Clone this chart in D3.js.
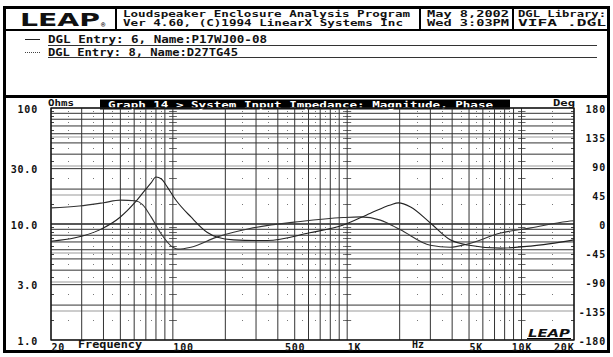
<!DOCTYPE html>
<html><head><meta charset="utf-8">
<script src="https://cdn.jsdelivr.net/npm/d3@7"></script>
<style>
html,body{margin:0;padding:0;background:#fff;}
svg{display:block;}
text{font-family:"DejaVu Sans Mono",monospace;font-weight:bold;fill:#111;}
</style></head>
<body>
<script>
// ---- data ----
const magFreq = [20, 27.5, 38, 50, 61, 70, 75, 80, 86, 93, 104, 127, 157, 180, 223, 348, 610, 950, 1360, 1770, 1970, 2310, 3000, 3900, 4900, 7600, 11300, 20000];
const magOhm  = [7.1, 7.6, 8.9, 11.5, 15.5, 20.0, 22.6, 25.4, 24.4, 20.8, 16.1, 11.5, 8.5, 7.7, 7.3, 7.2, 8.4, 9.8, 12.4, 14.6, 15.2, 14.0, 10.2, 7.3, 6.6, 6.2, 6.45, 7.3];
const phFreq  = [20, 29, 40, 50, 61, 67, 75, 85, 101, 107, 127, 180, 277, 540, 950, 1190, 1550, 2020, 3000, 3900, 4900, 7600, 11300, 18300, 20000];
const phDeg   = [25, 28, 33, 37, 36, 30, 11, -14, -37, -39, -36, -20, -7, 4, 10, 11, 6, -9, -33, -36, -31, -14, -6, 4, 5];

const ohmTicks = [100, 30, 10, 3, 1];
const ohmTickLabels = ["100", "30.0", "10.0", "3.0", "1.0"];
const degTicks = [180, 135, 90, 45, 0, -45, -90, -135, -180];
const freqTicks = [20, 100, 500, 1000, 5000, 10000, 20000];
const freqTickLabels = ["20", "100", "500", "1K", "5K", "10K", "20K"];

const headerTitle = ["Loudspeaker Enclosure Analysis Program", "Ver 4.60,  (C)1994 LinearX Systems Inc"];
const headerDate = ["May    8,2002", "Wed    3:03PM"];
const headerLib = ["DGL Library:", "VIFA     .DGL"];
const legendEntries = ["DGL Entry: 6, Name:P17WJ00-08", "DGL Entry: 8, Name:D27TG45"];
const graphTitle = "Graph 14 > System Input Impedance: Magnitude, Phase";

// ---- layout ----
const W = 613, H = 357;
const L = 51, R = 574, T = 108, B = 340;
const svg = d3.select("body").append("svg").attr("width", W).attr("height", H);

const x = d3.scaleLog().domain([20, 20000]).range([L, R]);
const yO = d3.scaleLog().domain([1, 100]).range([B, T]);
const yP = d3.scaleLinear().domain([-180, 180]).range([B, T]);

// outer frame
svg.append("rect").attr("x", 4.5).attr("y", 7.5).attr("width", 604).attr("height", 344)
  .attr("fill", "none").attr("stroke", "#000").attr("stroke-width", 3);
// header bottom
svg.append("line").attr("x1", 4).attr("x2", 609).attr("y1", 30).attr("y2", 30).attr("stroke", "#000").attr("stroke-width", 2);
// header separators
[116, 420, 513].forEach(sx => svg.append("line").attr("x1", sx).attr("x2", sx).attr("y1", 7).attr("y2", 30).attr("stroke", "#000").attr("stroke-width", 2));
// legend panel bottom
svg.append("line").attr("x1", 4).attr("x2", 609).attr("y1", 96.5).attr("y2", 96.5).attr("stroke", "#000").attr("stroke-width", 3);

// LEAP logo
svg.append("text").attr("x", 20).attr("y", 26).attr("textLength", 80).attr("lengthAdjust", "spacingAndGlyphs")
  .style("font-family", "DejaVu Sans").style("font-weight", "900").style("font-size", "17px").text("LEAP");
svg.append("text").attr("x", 101).attr("y", 27).style("font-size", "7px").text("®");

function txt(s, tx, ty, len, size) {
  const t = svg.append("text").attr("x", tx).attr("y", ty).style("font-size", (size || 10) + "px").text(s);
  if (len) t.attr("textLength", len).attr("lengthAdjust", "spacingAndGlyphs");
  return t;
}
txt(headerTitle[0], 123, 17, 287, 8);
txt(headerTitle[1], 123, 26, 280, 8);
txt(headerDate[0], 427, 17, 82, 8);
txt(headerDate[1], 427, 26, 82, 8);
txt(headerLib[0], 518, 17, 88, 8);
txt(headerLib[1], 518, 26, 88, 8);

// legend
svg.append("line").attr("x1", 25).attr("x2", 40).attr("y1", 39.5).attr("y2", 39.5).attr("stroke", "#222");
svg.append("line").attr("x1", 25).attr("x2", 40).attr("y1", 52.5).attr("y2", 52.5).attr("stroke", "#444").attr("stroke-dasharray", "1,1");
txt(legendEntries[0], 48, 43, 219, 10);
txt(legendEntries[1], 48, 56, 190, 10);
svg.append("line").attr("x1", 48).attr("x2", 597).attr("y1", 45.5).attr("y2", 45.5).attr("stroke", "#333");
svg.append("line").attr("x1", 48).attr("x2", 597).attr("y1", 57.5).attr("y2", 57.5).attr("stroke", "#333");

// graph title bar
svg.append("rect").attr("x", 100).attr("y", 99.5).attr("width", 410).attr("height", 10).attr("fill", "#000");
txt(graphTitle, 108, 107.5, 385, 9).style("fill", "#fff");
txt("Ohms", 48, 106, 26, 9);
txt("Deg", 553, 106, 22, 9);

// ---- grid ----
const g = svg.append("g");
const freqGrid = [];
[10, 100, 1000].forEach(d => { for (let k = 1; k <= 9; k++) { const f = d * k; if (f >= 20 && f <= 20000) freqGrid.push(f); } });
freqGrid.push(10000, 20000);
const ohmGrid = [];
[1, 10].forEach(d => { for (let k = 1; k <= 10; k++) ohmGrid.push(d * k); });
const freqMid = [];
[10, 100, 1000].forEach(d => { for (let k = 2; k <= 9; k++) { const f = d * (k + 0.5); if (f > 20 && f < 20000) freqMid.push(f); } });
[15000].forEach(f => freqMid.push(f));
const ohmMid = [];
[1, 10].forEach(d => { for (let k = 1; k <= 9; k++) ohmMid.push(d * (k + 0.5)); });

// dots
freqMid.forEach(f => ohmMid.forEach(o => {
  g.append("rect").attr("x", Math.round(x(f))).attr("y", Math.round(yO(o))).attr("width", 1).attr("height", 1).attr("fill", "#777");
}));
// edge ticks and decade marks
ohmMid.forEach(o => {
  const yy = Math.round(yO(o)) + 0.5;
  g.append("line").attr("x1", L).attr("x2", L + 3).attr("y1", yy).attr("y2", yy).attr("stroke", "#444");
  g.append("line").attr("x1", R - 3).attr("x2", R).attr("y1", yy).attr("y2", yy).attr("stroke", "#444");
  [100, 1000, 10000].forEach(f => {
    g.append("line").attr("x1", x(f) - 3).attr("x2", x(f) + 4).attr("y1", yy).attr("y2", yy).attr("stroke", "#666");
  });
});
// phase grid (gray)
degTicks.slice(1, -1).forEach(d => {
  g.append("line").attr("x1", L).attr("x2", R).attr("y1", yP(d)).attr("y2", yP(d)).attr("stroke", "#999").attr("stroke-width", 1.2);
});
// ohm grid
ohmGrid.forEach(o => {
  g.append("line").attr("x1", L).attr("x2", R).attr("y1", yO(o)).attr("y2", yO(o)).attr("stroke", "#333").attr("stroke-width", 1);
});
// freq grid
freqGrid.forEach(f => {
  g.append("line").attr("x1", x(f)).attr("x2", x(f)).attr("y1", T).attr("y2", B).attr("stroke", "#333").attr("stroke-width", 1);
});
g.append("rect").attr("x", L).attr("y", T).attr("width", R - L).attr("height", B - T)
  .attr("fill", "none").attr("stroke", "#111").attr("stroke-width", 1.3);

// ---- curves ----
const magData = magFreq.map((f, i) => [f, magOhm[i]]);
const phData = phFreq.map((f, i) => [f, phDeg[i]]);
svg.append("path").datum(phData)
  .attr("d", d3.line().x(d => x(d[0])).y(d => yP(d[1])).curve(d3.curveMonotoneX))
  .attr("fill", "none").attr("stroke", "#333").attr("stroke-width", 1.1);
svg.append("path").datum(magData)
  .attr("d", d3.line().x(d => x(d[0])).y(d => yO(d[1])).curve(d3.curveMonotoneX))
  .attr("fill", "none").attr("stroke", "#222").attr("stroke-width", 1.1);

// small LEAP logo
svg.append("rect").attr("x", 525).attr("y", 329).attr("width", 48).attr("height", 10).attr("fill", "#fff");
svg.append("text").attr("x", 528).attr("y", 337).attr("textLength", 42).attr("lengthAdjust", "spacingAndGlyphs")
  .style("font-family", "DejaVu Sans").style("font-weight", "900").style("font-style", "italic").style("font-size", "10px").text("LEAP");
svg.append("line").attr("x1", 527).attr("x2", 571).attr("y1", 338.5).attr("y2", 338.5).attr("stroke", "#000");

// ---- axes ----
const axL = svg.append("g").attr("transform", `translate(${L},0)`)
  .call(d3.axisLeft(yO).tickValues(ohmTicks).tickFormat((d, i) => ohmTickLabels[i]).tickSize(0).tickPadding(13));
const axR = svg.append("g").attr("transform", `translate(${R},0)`)
  .call(d3.axisRight(yP).tickValues(degTicks).tickFormat(d => String(d)).tickSize(0).tickPadding(0));
const axB = svg.append("g").attr("transform", `translate(0,${B})`)
  .call(d3.axisBottom(x).tickValues(freqTicks).tickFormat((d, i) => freqTickLabels[i]).tickSize(0).tickPadding(0));
[axL, axR, axB].forEach(a => {
  a.select(".domain").remove();
  a.selectAll("text").style("font-family", "DejaVu Sans Mono").style("font-weight", "bold")
    .style("font-size", "10px").style("letter-spacing", "0.8px").attr("fill", "#111");
});
axL.selectAll("text").attr("dy", "0.4em");
axR.selectAll("text").attr("text-anchor", "end").attr("x", 32).attr("dy", "0.45em");
const anchors = ["start", "start", "middle", "start", "start", "middle", "end"];
axB.selectAll("text").attr("text-anchor", (d, i) => anchors[i]).attr("y", 4).attr("dy", "0.71em");
txt("Frequency", 78, 348, 64, 10);
txt("Hz", 412, 348, 12, 10);
</script>
</body></html>
